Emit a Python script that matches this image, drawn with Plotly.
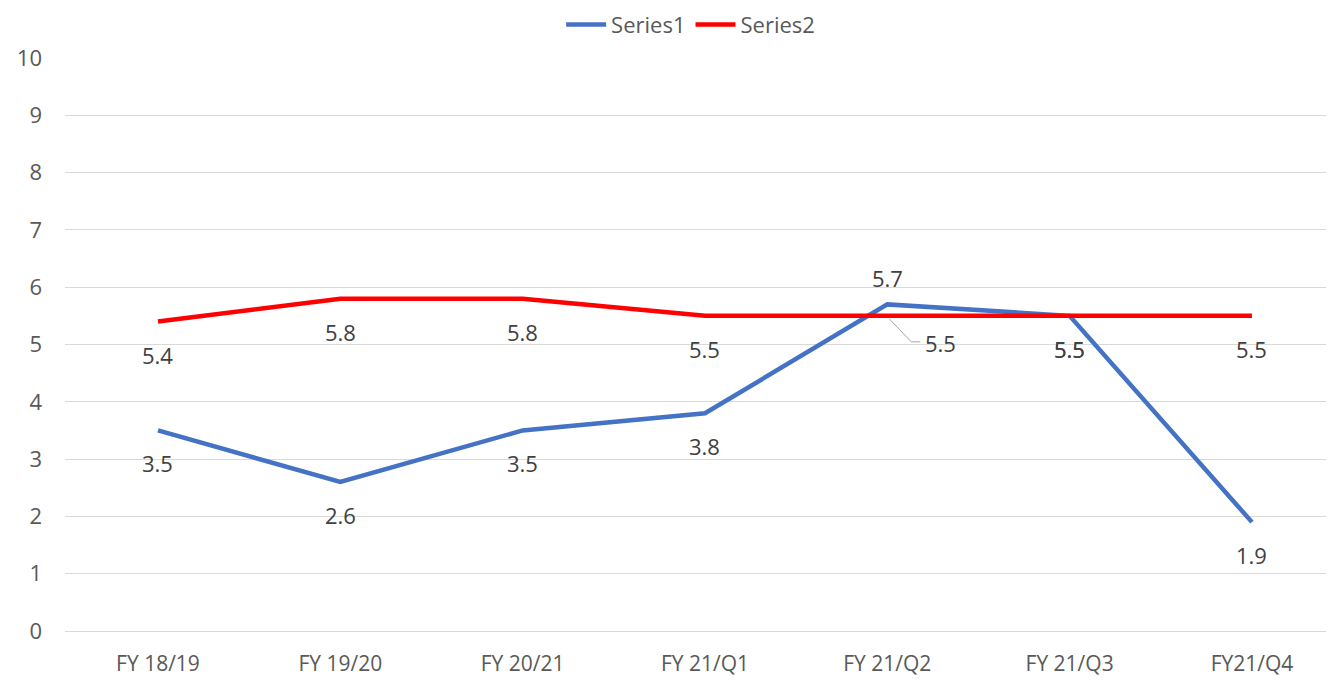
import plotly.graph_objects as go

categories = ["FY 18/19", "FY 19/20", "FY 20/21", "FY 21/Q1", "FY 21/Q2", "FY 21/Q3", "FY21/Q4"]
series1 = [3.5, 2.6, 3.5, 3.8, 5.7, 5.5, 1.9]
series2 = [5.4, 5.8, 5.8, 5.5, 5.5, 5.5, 5.5]
y_ticks = list(range(0, 11))

FONT = "Open Sans"
TXT = "#595959"
LBL = "#404040"
LSIZE = 22

fig = go.Figure()
fig.add_trace(go.Scatter(
    x=categories, y=series1, name="Series1", mode="lines",
    line=dict(color="#4472C4", width=4.5),
))
fig.add_trace(go.Scatter(
    x=categories, y=series2, name="Series2", mode="lines",
    line=dict(color="#FF0000", width=4.5),
))

# data labels
for i, (c, v) in enumerate(zip(categories, series1)):
    shift = 26 if i == 4 else -33
    fig.add_annotation(x=c, y=v, text=str(v), showarrow=False, yshift=shift,
                       font=dict(family=FONT, size=LSIZE, color=LBL))
for i, (c, v) in enumerate(zip(categories, series2)):
    if i == 4:
        fig.add_annotation(x=c, y=v, text=str(v), showarrow=False, xanchor="left",
                           xshift=36, yshift=-27,
                           font=dict(family=FONT, size=LSIZE, color=LBL))
        fig.add_shape(type="line", xref="x", yref="y", xsizemode="pixel", ysizemode="pixel",
                      xanchor=c, yanchor=v, x0=2, y0=-3, x1=24, y1=-26,
                      line=dict(color="#A6A6A6", width=1))
        fig.add_shape(type="line", xref="x", yref="y", xsizemode="pixel", ysizemode="pixel",
                      xanchor=c, yanchor=v, x0=24, y0=-26, x1=33, y1=-26,
                      line=dict(color="#A6A6A6", width=1))
    else:
        fig.add_annotation(x=c, y=v, text=str(v), showarrow=False, yshift=-33,
                           font=dict(family=FONT, size=LSIZE, color=LBL))

# page body has an 8px margin: shrink figure so it ends at the window edge
fig.update_layout(
    width=1326, height=673,
    margin=dict(l=57, r=0, t=50, b=50, autoexpand=False),
    paper_bgcolor="white", plot_bgcolor="white",
    font=dict(family=FONT, size=20, color=TXT),
    legend=dict(orientation="h", x=0.493, xanchor="center", y=1.058, yanchor="middle",
                yref="paper", font=dict(family=FONT, size=22, color=TXT),
                itemwidth=40, tracegroupgap=0),
    showlegend=True,
)
fig.update_xaxes(type="category", range=[-0.51, 6.45], showgrid=False,
                 showline=False, ticks="", ticklabelstandoff=18,
                 tickfont=dict(family=FONT, size=21, color=TXT))
fig.update_yaxes(range=[0, 10], tickvals=y_ticks, showgrid=True, gridcolor="#D9D9D9",
                 gridwidth=1, zeroline=True, zerolinecolor="#D9D9D9", zerolinewidth=1,
                 showline=False, ticks="", ticklabelstandoff=22,
                 tickfont=dict(family=FONT, size=22, color=TXT))

fig.write_html("out.html")
